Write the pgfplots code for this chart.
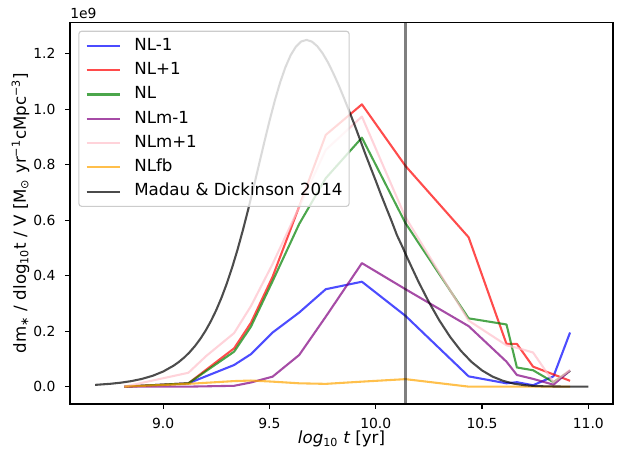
\documentclass[border=0pt]{standalone}
\usepackage{fontspec}
\setmainfont{DejaVu Sans}
\usepackage{pgfplots}
\pgfplotsset{compat=1.18}
\usepackage{pgfplotstable}

\pgfplotstableread{
x y
8.68 0.0063
8.75 0.0101
8.80 0.0142
8.85 0.0198
8.90 0.0278
8.95 0.0389
9.00 0.0543
9.05 0.0759
9.075 0.0895
9.10 0.1055
9.125 0.1244
9.15 0.1464
9.175 0.1721
9.20 0.2019
9.225 0.2364
9.25 0.2760
9.275 0.3212
9.30 0.3726
9.325 0.4300
9.35 0.4936
9.375 0.5633
9.40 0.6378
9.425 0.7164
9.45 0.7972
9.475 0.8779
9.50 0.9562
9.525 1.0295
9.55 1.0950
9.575 1.1505
9.60 1.1944
9.625 1.2254
9.65 1.2438
9.675 1.2492
9.70 1.2430
9.725 1.2266
9.75 1.2013
9.775 1.1688
9.80 1.1298
9.825 1.0875
9.85 1.0412
9.875 0.9929
9.90 0.9441
9.925 0.8924
9.95 0.8404
9.975 0.7910
10.00 0.7419
10.025 0.6914
10.05 0.6433
10.075 0.5956
10.10 0.5454
10.125 0.5047
10.15 0.4615
10.20 0.3796
10.25 0.3047
10.30 0.2376
10.35 0.1791
10.40 0.1295
10.45 0.0894
10.50 0.0584
10.55 0.0359
10.60 0.0205
10.65 0.0108
10.70 0.0052
10.75 0.0023
10.80 0.0009
10.90 0.0001
11.00 0.0000
}\madau

\pgfplotstableread{
x nlm1 nlp1 nl nlmm1 nlfb
8.818 0.000 0.000 0.000 0.000 0.000
9.119 0.012 0.012 0.012 0.000 0.010
9.334 0.078 0.138 0.126 0.003 0.020
9.413 0.117 0.230 0.216 0.015 0.022
9.515 0.195 0.396 0.380 0.036 0.018
9.640 0.267 0.649 0.586 0.114 0.012
9.765 0.351 0.907 0.751 0.252 0.010
9.935 0.378 1.017 0.897 0.445 0.018
10.140 0.255 0.795 0.589 0.351 0.027
10.437 0.037 0.538 0.246 0.218 0.000
10.615 0.012 0.154 0.224 0.090 0.000
10.664 0.016 0.154 0.069 0.042 0.000
10.740 0.005 0.072 0.059 0.028 0.000
10.836 0.037 0.044 0.016 0.007 0.000
10.914 0.195 0.021 0.057 0.058 0.000
}\sims

\pgfplotstableread{
x y
8.818 0.000
9.119 0.050
9.202 0.110
9.334 0.193
9.413 0.290
9.515 0.442
9.640 0.647
9.765 0.853
9.935 0.973
10.140 0.610
10.437 0.238
10.615 0.149
10.664 0.140
10.740 0.123
10.836 0.016
10.914 0.060
}\nlmpone

\begin{document}
\begin{tikzpicture}
\begin{axis}[
  scale only axis, width=391pt, height=274.8pt,
  xmin=8.562, xmax=11.116, ymin=-0.0625, ymax=1.3125,
  xtick={9,9.5,10,10.5,11},
  ytick={0,0.2,0.4,0.6,0.8,1.0,1.2},
  scaled y ticks=false,
  tick align=outside, tick pos=left,
  major tick length=3.5pt,
  every tick/.style={black, line width=0.8pt},
  axis line style={line width=0.8pt},
  ticklabel style={font=\fontsize{10}{12}\selectfont},
  xticklabel style={yshift=-3.5pt},
  yticklabel style={xshift=-3.5pt},
  /pgf/number format/assume math mode=true,
  /pgf/number format/fixed, /pgf/number format/fixed zerofill,
  /pgf/number format/precision=1,
  xlabel={{\itshape log}\textsubscript{10} {\itshape t} [yr]},
  ylabel={dm\textsubscript{∗} / dlog\textsubscript{10}t / V [M\textsubscript{⊙} yr\textsuperscript{−1}cMpc\textsuperscript{−3}]},
  label style={font=\fontsize{12}{14}\selectfont},
  xlabel style={at={([yshift=-28.8pt]rel axis cs:0.5,0)}, anchor=base},
  ylabel style={at={([xshift=-31.7pt]rel axis cs:0,0.5)}, anchor=base},
  unbounded coords=discard,
  legend cell align=left,
  legend image code/.code={\draw[#1] (0pt,0pt) -- (24pt,0pt);},
  legend style={at={(rel axis cs:0,1)}, anchor=north west, xshift=6pt, yshift=-6pt,
    font=\fontsize{12}{14}\selectfont,
    draw=black!20, line width=0.8pt, fill=white, fill opacity=0.8, text opacity=1,
    rounded corners=2pt, inner sep=4.8pt, row sep=6pt,
    nodes={inner sep=0pt, text height=8.8pt, text depth=2.7pt},
    /tikz/every odd column/.append style={column sep=9.6pt}},
  every axis plot/.append style={line width=1.5pt, line join=round, draw opacity=0.7},
]
\addplot[blue] table[x=x, y=nlm1] {\sims};
\addlegendentry{NL-1}
\addplot[red] table[x=x, y=nlp1] {\sims};
\addlegendentry{NL+1}
\addplot[color={rgb,255:red,0;green,128;blue,0}] table[x=x, y=nl] {\sims};
\addlegendentry{NL}
\addplot[color={rgb,255:red,128;green,0;blue,128}] table[x=x, y=nlmm1] {\sims};
\addlegendentry{NLm-1}
\addplot[color={rgb,255:red,255;green,192;blue,203}] table[x=x, y=y] {\nlmpone};
\addlegendentry{NLm+1}
\addplot[color={rgb,255:red,255;green,165;blue,0}] table[x=x, y=nlfb] {\sims};
\addlegendentry{NLfb}
\addplot[black] table[x=x, y=y] {\madau};
\addlegendentry{Madau \& Dickinson 2014}
\addplot[forget plot, black, draw opacity=0.5] coordinates {(10.14,-0.0625) (10.14,1.3125)};
\end{axis}
\node[anchor=base west, inner sep=0pt, font=\fontsize{10}{12}\selectfont] at (0pt,277.8pt) {1e9};
\pgfresetboundingbox
\path[use as bounding box] (-50.4pt,-31.7pt) rectangle (394.6pt,290.9pt);
\end{tikzpicture}
\end{document}
